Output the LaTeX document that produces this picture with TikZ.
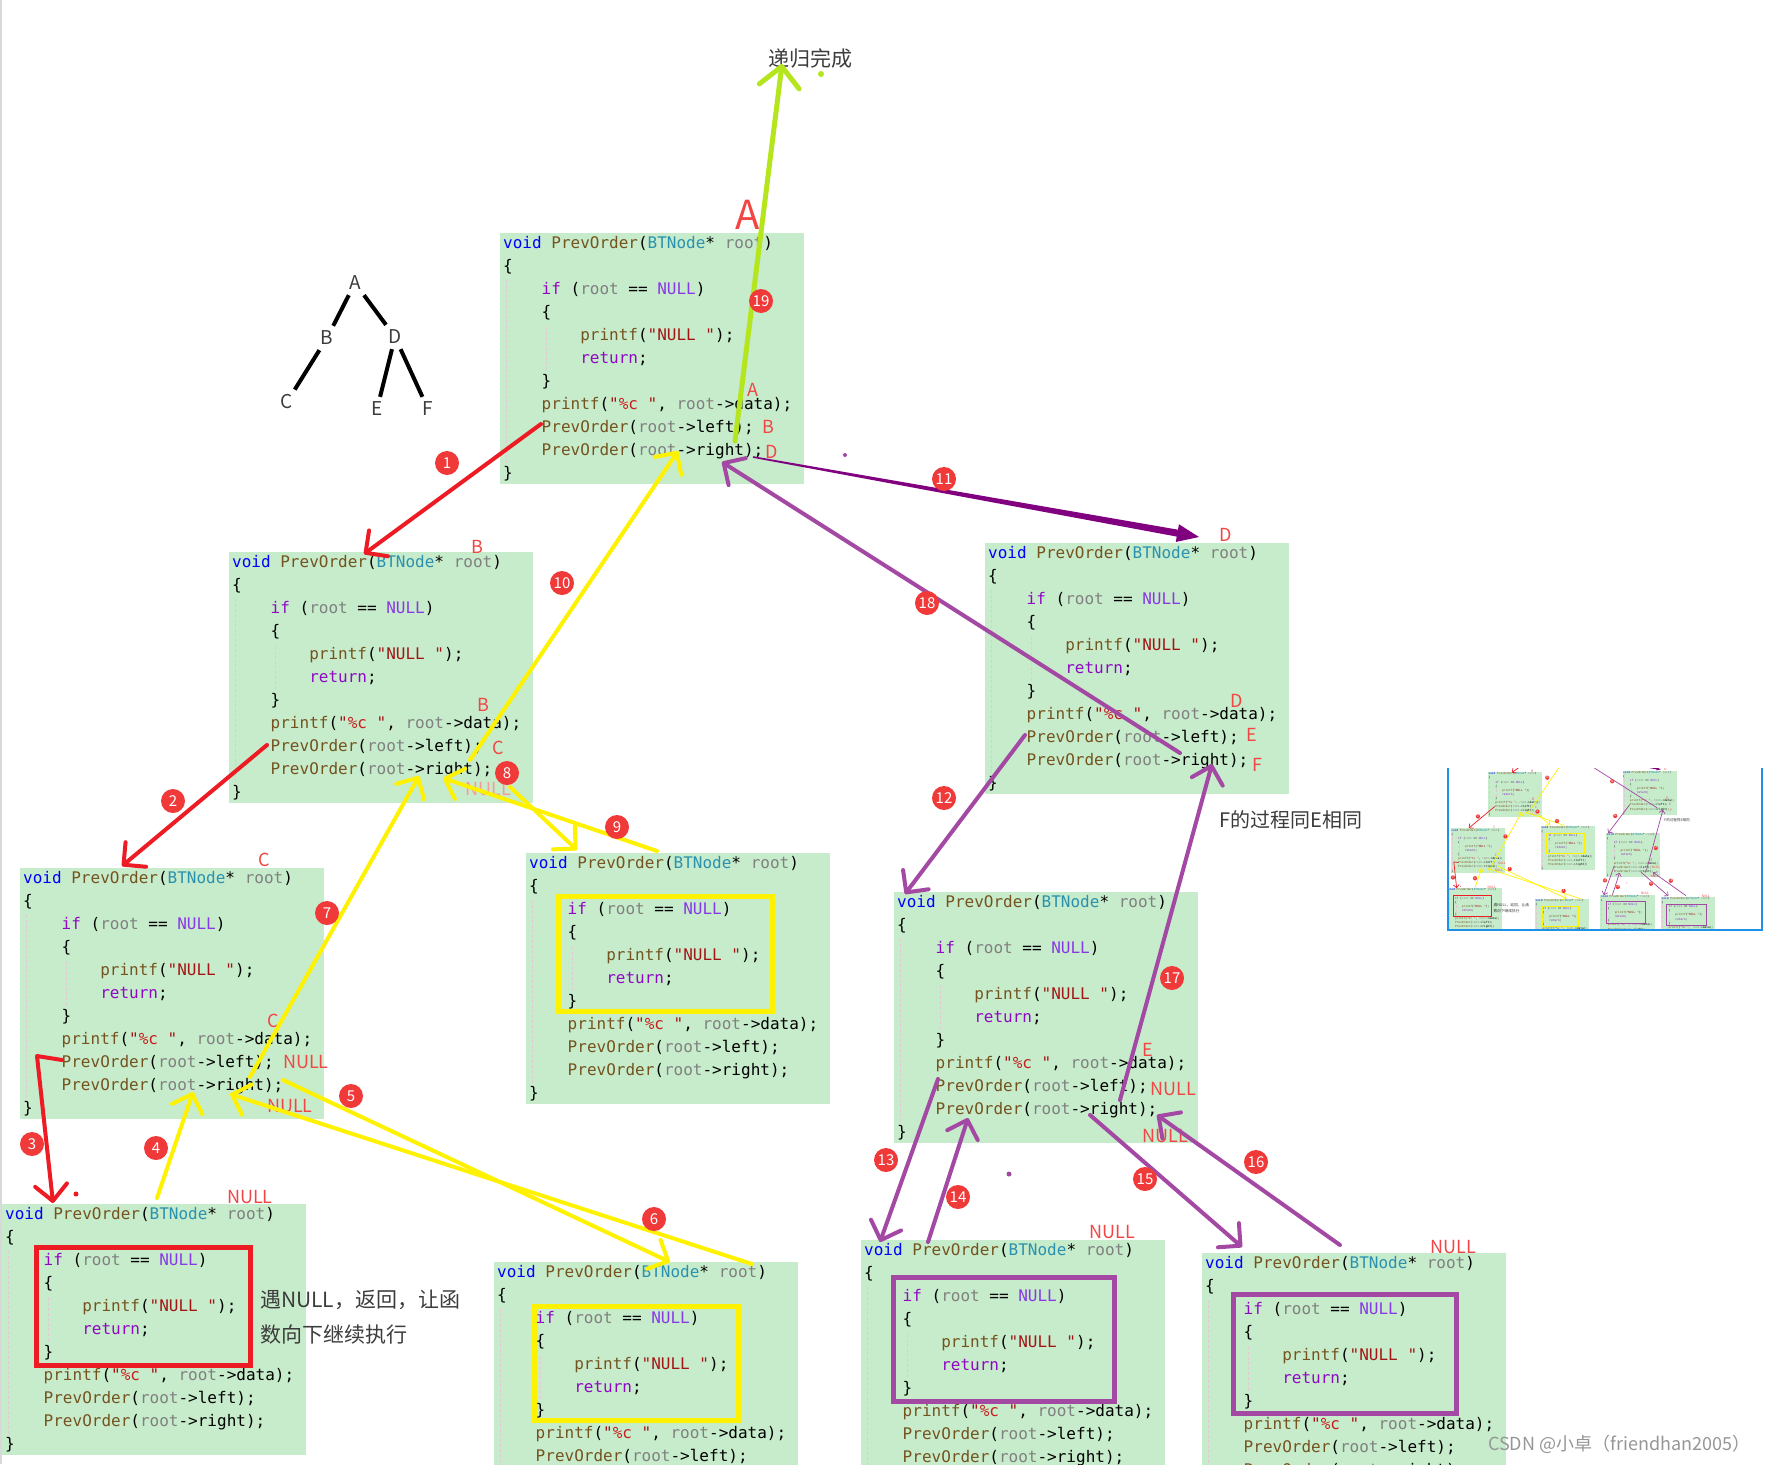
\documentclass[tikz,border=0pt]{standalone}
\usepackage{fontspec}
\setmainfont{Noto Sans CJK SC}
\newfontfamily\codefont{DejaVu Sans Mono}
\usetikzlibrary{arrows.meta}

\definecolor{boxgreen}{RGB}{199,236,203}
\definecolor{kwblue}{RGB}{0,0,255}
\definecolor{fnbrown}{RGB}{116,83,31}
\definecolor{tyteal}{RGB}{43,145,175}
\definecolor{vagray}{RGB}{128,128,128}
\definecolor{pkpurple}{RGB}{143,8,196}
\definecolor{nlviolet}{RGB}{136,56,230}
\definecolor{strred}{RGB}{163,21,21}
\definecolor{pcred}{RGB}{200,30,30}
\definecolor{numred}{RGB}{240,58,58}
\definecolor{annred}{RGB}{242,70,70}
\definecolor{arrred}{RGB}{237,28,36}
\definecolor{arryel}{RGB}{255,242,0}
\definecolor{arrpur}{RGB}{163,73,164}
\definecolor{darkpur}{RGB}{128,0,128}
\definecolor{limegreen}{RGB}{181,230,29}
\definecolor{guide}{RGB}{228,200,212}
\definecolor{thumbblue}{RGB}{30,144,230}
\definecolor{txtgray}{RGB}{60,60,60}
\definecolor{wmgray}{RGB}{150,150,150}

\newcommand\lwf{1}
\newcommand\ind{\phantom{0000}}
\newcommand\cKw[1]{\textcolor{kwblue}{#1}}
\newcommand\cFn[1]{\textcolor{fnbrown}{#1}}
\newcommand\cTy[1]{\textcolor{tyteal}{#1}}
\newcommand\cVa[1]{\textcolor{vagray}{#1}}
\newcommand\cPk[1]{\textcolor{pkpurple}{#1}}
\newcommand\cNl[1]{\textcolor{nlviolet}{#1}}
\newcommand\cSt[1]{\textcolor{strred}{#1}}
\newcommand\codelines{%
\cKw{void} \cFn{PrevOrder}(\cTy{BTNode}* \cVa{root})\\
\{\\
\ind\cPk{if} (\cVa{root} == \cNl{NULL})\\
\ind\{\\
\ind\ind\cFn{printf}(\cSt{"NULL "});\\
\ind\ind\cPk{return};\\
\ind\}\\
\ind\cFn{printf}(\cSt{"\textcolor{pcred}{\%c} "}, \cVa{root}->data);\\
\ind\cFn{PrevOrder}(\cVa{root}->left);\\
\ind\cFn{PrevOrder}(\cVa{root}->right);\\
\}}

\tikzset{
  cbox/.style={fill=boxgreen, minimum width=304pt, minimum height=251pt, inner sep=0pt, outer sep=0pt},
  ctext/.style={font=\codefont\fontsize{16}{23}\selectfont, align=left, inner sep=0pt, text=black},
  guideline/.style={draw=guide, line width=1pt*\lwf, dash pattern=on 3pt off 2pt},
  innerframe/.style={line width=5pt*\lwf},
  badge/.style={circle, fill=numred, text=white, minimum size=24pt, inner sep=0pt, font=\fontsize{15}{15}\selectfont},
  redmark/.style={text=annred, font=\fontsize{18}{18}\selectfont, inner sep=0pt},
  handarrow/.style={line width=4pt*\lwf, line cap=round, line join=round, -{Straight Barb[length=0pt 4, width=0pt 8, round]}},
  redarr/.style={handarrow, draw=arrred},
  yelarr/.style={handarrow, draw=arryel},
  purarr/.style={handarrow, draw=arrpur},
  limearr/.style={handarrow, draw=limegreen, line width=5pt*\lwf},
  treeletter/.style={text=txtgray, font=\fontsize{19}{19}\selectfont, inner sep=5pt},
  treeedge/.style={draw=black, line width=4pt*\lwf},
  cjknote/.style={text=txtgray, font=\fontsize{21}{21}\selectfont, inner sep=0pt},
}

% the base anchor of a multi-line node is the baseline of its LAST line
\newcommand\codebox[3]{%
  \node[cbox, anchor=north west] (#1) at (#2,#3) {};
  \draw[guideline] (#2+6,#3+47) -- (#2+6,#3+234);
  \draw[guideline] (#2+46,#3+94) -- (#2+46,#3+137);
  \node[ctext, anchor=base west] (#1-code) at (#2+3,#3+245) {\codelines};
}

\newcommand\maincontent{%
  % code boxes
  \codebox{bA}{500}{233}
  \codebox{bB}{229}{552}
  \codebox{bC}{20}{868}
  \codebox{bBr}{526}{853}
  \codebox{bCl}{2}{1204}
  \codebox{bCr}{494}{1262}
  \codebox{bD}{985}{543}
  \codebox{bE}{894}{892}
  \codebox{bEl}{861}{1240}
  \codebox{bEr}{1202}{1253}
  % highlight frames
  \draw[innerframe, draw=arrred] (36,1247) rectangle (250,1365);
  \draw[innerframe, draw=arryel] (558,896) rectangle (772,1011);
  \draw[innerframe, draw=arryel] (534,1306) rectangle (738,1420);
  \draw[innerframe, draw=arrpur] (893,1277) rectangle (1114,1401);
  \draw[innerframe, draw=arrpur] (1233,1294) rectangle (1456,1413);
  % tree
  \node[treeletter] (tA) at (355,283) {A};
  \node[treeletter] (tB) at (327,338) {B};
  \node[treeletter] (tD) at (395,337) {D};
  \node[treeletter] (tC) at (287,402) {C};
  \node[treeletter] (tE) at (377,409) {E};
  \node[treeletter] (tF) at (428,409) {F};
  \draw[treeedge] (tA) -- (tB);
  \draw[treeedge] (tA) -- (tD);
  \draw[treeedge] (tB) -- (tC);
  \draw[treeedge] (tD) -- (tE);
  \draw[treeedge] (tD) -- (tF);
  % notes
  \node[cjknote] (done) at (810,58) {递归完成};
  \node[cjknote, font=\fontsize{20}{20}\selectfont] (fnote) at (1291,820) {F的过程同E相同};
  \node[cjknote, anchor=west] (nullnote1) at (260,1300) {遇NULL，返回，让函};
  \node[cjknote, anchor=west] (nullnote2) at (260,1335) {数向下继续执行};
  % red annotations
  \node[redmark, font=\fontsize{40}{40}\selectfont] (mA0) at (748,215) {A};
  \node[redmark] (mA1) at (753,390) {A};
  \node[redmark] (mB1) at (768,427) {B};
  \node[redmark] (mD1) at (772,452) {D};
  \node[redmark] (mB2) at (477,547) {B};
  \node[redmark] (mB3) at (483,705) {B};
  \node[redmark] (mC1) at (498,748) {C};
  \node[redmark, text=annred!55] (mN1) at (488,789) {NULL};
  \node[redmark] (mC2) at (264,860) {C};
  \node[redmark] (mC3) at (273,1021) {C};
  \node[redmark] (mN2) at (306,1062) {NULL};
  \node[redmark] (mN3) at (290,1106) {NULL};
  \node[redmark] (mN4) at (250,1197) {NULL};
  \node[redmark] (mD2) at (1226,535) {D};
  \node[redmark] (mD3) at (1237,701) {D};
  \node[redmark] (mE1) at (1252,735) {E};
  \node[redmark] (mF1) at (1257,765) {F};
  \node[redmark] (mE2) at (1148,1050) {E};
  \node[redmark] (mN5) at (1173,1089) {NULL};
  \node[redmark] (mN6) at (1165,1136) {NULL};
  \node[redmark] (mN7) at (1112,1232) {NULL};
  \node[redmark] (mN8) at (1453,1247) {NULL};
  % small ink dots
  \fill[arrred] (76,1194) circle (2.5);
  \fill[limegreen] (821,74) circle (3);
  \fill[arrpur] (845,455) circle (2);
  \fill[arrpur] (1009,1174) circle (2.5);
  % connector end points
  \coordinate (a1s) at (541,424);   \coordinate (a1e) at (364,554);
  \coordinate (a2s) at (267,745);   \coordinate (a2e) at (122,866);
  \coordinate (a3s) at (62,1060);   \coordinate (a3m) at (37,1056);  \coordinate (a3e) at (53,1203);
  \coordinate (a4s) at (157,1198);  \coordinate (a4e) at (193,1092);
  \coordinate (a5s) at (283,1080);  \coordinate (a5e) at (670,1262);
  \coordinate (a6s) at (752,1264);  \coordinate (a6e) at (230,1094);
  \coordinate (a7s) at (250,1077);  \coordinate (a7e) at (419,776);
  \coordinate (a8s) at (510,787);   \coordinate (a8e) at (577,850);
  \coordinate (a9s) at (657,851);   \coordinate (a9e) at (443,778);
  \coordinate (a10s) at (470,760);  \coordinate (a10e) at (678,451);
  \coordinate (a11s) at (753,457);  \coordinate (a11e) at (1199,537);
  \coordinate (a12s) at (1025,735); \coordinate (a12e) at (905,894);
  \coordinate (a13s) at (938,1079); \coordinate (a13e) at (880,1242);
  \coordinate (a14s) at (928,1242); \coordinate (a14e) at (968,1118);
  \coordinate (a15s) at (1090,1115);\coordinate (a15e) at (1242,1247);
  \coordinate (a16s) at (1340,1245);\coordinate (a16e) at (1157,1115);
  \coordinate (a17s) at (1120,1100);\coordinate (a17e) at (1212,764);
  \coordinate (a18s) at (1180,753); \coordinate (a18e) at (722,462);
  \coordinate (a19s) at (735,441);  \coordinate (a19e) at (782,64);
  % connectors
  \draw[redarr] (a1s) -- (a1e);
  \draw[redarr] (a2s) -- (a2e);
  \draw[redarr] (a3s) -- (a3m) -- (a3e);
  \draw[yelarr] (a4s) -- (a4e);
  \draw[yelarr] (a5s) -- (a5e);
  \draw[yelarr] (a6s) -- (a6e);
  \draw[yelarr] (a7s) -- (a7e);
  \draw[yelarr] (a8s) -- (a8e);
  \draw[yelarr] (a9s) -- (a9e);
  \draw[yelarr] (a10s) -- (a10e);
  \fill[darkpur] (a11s) -- (752.86,457.79) -- (1176.73,536.57) -- (1175.76,541.98) -- (a11e)
     -- (1178.94,524.26) -- (1177.97,529.67) -- (753.14,456.21) -- cycle;
  \draw[purarr] (a12s) -- (a12e);
  \draw[purarr] (a13s) -- (a13e);
  \draw[purarr] (a14s) -- (a14e);
  \draw[purarr] (a15s) -- (a15e);
  \draw[purarr] (a16s) -- (a16e);
  \draw[purarr] (a17s) -- (a17e);
  \draw[purarr] (a18s) -- (a18e);
  \draw[limearr] (a19s) -- (a19e);
  % step badges
  \node[badge] (n1) at (447,463) {1};
  \node[badge] (n2) at (173,801) {2};
  \node[badge] (n3) at (32,1144) {3};
  \node[badge] (n4) at (156,1148) {4};
  \node[badge] (n5) at (351,1096) {5};
  \node[badge] (n6) at (654,1219) {6};
  \node[badge] (n7) at (327,913) {7};
  \node[badge] (n8) at (507,773) {8};
  \node[badge] (n9) at (617,827) {9};
  \node[badge] (n10) at (562,583) {10};
  \node[badge] (n11) at (944,479) {11};
  \node[badge] (n12) at (944,798) {12};
  \node[badge] (n13) at (886,1160) {13};
  \node[badge] (n14) at (958,1197) {14};
  \node[badge] (n15) at (1145,1179) {15};
  \node[badge] (n16) at (1256,1162) {16};
  \node[badge] (n17) at (1172,978) {17};
  \node[badge] (n18) at (927,603) {18};
  \node[badge] (n19) at (761,301) {19};
}

\begin{document}
\begin{tikzpicture}[x=1pt,y=-1pt]
  \useasboundingbox (0,0) rectangle (1774,1464);
  \fill[white] (0,0) rectangle (1774,1464);
  \begin{scope}
    \clip (0,0) rectangle (1774,1464);
    \maincontent
  \end{scope}
  \draw[black!15, line width=1.5pt] (1,0) -- (1,1464);
  % thumbnail
  \begin{scope}
    \clip (1448,768) rectangle (1762,930);
    \begin{scope}[shift={(1447.2,673.9)}, scale=0.178, transform shape]
      \renewcommand\lwf{0.178}
      \maincontent
    \end{scope}
  \end{scope}
  \draw[thumbblue, line width=1.5pt] (1448,768) -- (1448,930) -- (1762,930) -- (1762,768);
  % watermark
  \node[anchor=west, text=wmgray, font=\fontsize{18}{18}\selectfont, inner sep=0pt] (wm) at (1488,1444) {CSDN @小卓（friendhan2005）};
\end{tikzpicture}
\end{document}
